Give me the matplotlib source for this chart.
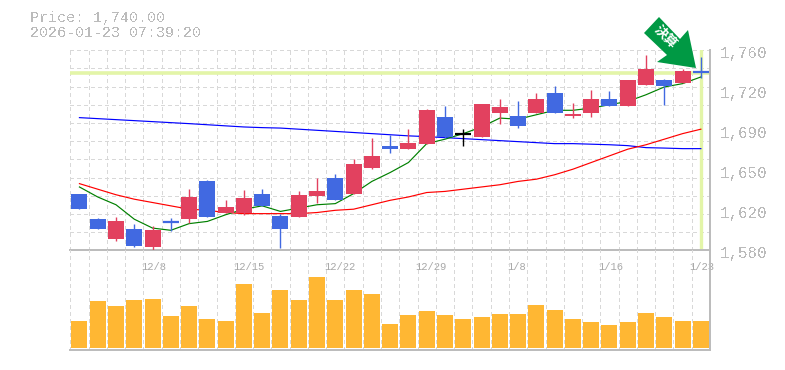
import numpy as np
import matplotlib
matplotlib.use('Agg')
from matplotlib import pyplot as plt
from matplotlib.patches import Polygon

plt.rcParams['font.family'] = ['Liberation Mono', 'DejaVu Sans']
plt.rcParams['text.antialiased'] = False

# daily prices, oldest first
opens = [1631,1608,1590,1599,1583,1605.5,1608,1642,1614,1614,1631,1611,1610,1629,1645,1631,1654,1674,1671,1676,1700,1685,1682,1704,1701,1704,1722,1701,1704,1716,1710,1729,1733,1731,1741]
closes = [1617,1599,1606,1584,1598,1605,1628,1610,1619,1627,1620,1599,1630,1633,1625,1658,1665,1671,1677,1706,1682,1685,1712,1709,1692,1716,1704,1703,1716,1710,1733,1743,1728,1741,1740]
highs = [1631,1609,1610,1604,1602,1609,1635,1643,1625,1634,1635,1613,1633,1645,1649,1662,1681,1684,1689,1707,1710,1689,1712,1716,1714,1722,1728,1713,1724,1723,1733,1756,1734,1743,1754]
lows = [1617,1599,1588,1583,1580,1597,1605,1610,1614,1612,1620,1582,1610,1623,1625,1631,1653,1668,1671,1676,1681,1674,1682,1694,1690,1704,1704,1699,1700,1710,1710,1729,1711,1731,1735]
volumes = [27,47,42,48,49,32,42,29,27,64,35,58,48,71,48,58,54,24,33,37,33,29,31,34,34,43,38,29,26,23,26,35,31,27,27]

ma_short = [1637,1628,1621,1608,1600,1598,1604,1606,1612,1617,1620,1615,1618,1621,1622,1631,1642,1650,1659,1676,1680,1685,1691,1699,1698,1702,1706,1706,1708,1711,1714,1720,1727,1730,1736]
ma_mid = [1640,1635,1630,1626,1623,1620,1617,1616,1614,1613,1613,1613,1613,1614,1616,1617,1621,1625,1628,1632,1633,1635,1637,1639,1642,1644,1648,1653,1659,1665,1671,1675,1680,1685,1689]
ma_long = [1699.4,1698.5,1697.6,1696.7,1695.8,1694.9,1694,1693,1692,1691,1690.4,1690,1689,1688,1687,1686,1685,1684,1683,1682.3,1681.4,1680.5,1679.6,1678.7,1677.8,1676.9,1676,1676,1675.5,1675,1674.2,1672.4,1672,1671.5,1671.5]

date_pos = [4,9,14,19,24,29,34]
date_labels = ['12/8','12/15','12/22','12/29','1/8','1/16','1/23']
price_pos = [1760,1724,1688,1652,1616,1580]
price_labels = ['1,760','1,720','1,690','1,650','1,620','1,580']
last_price = 1740

UP = '#E2415F'
DOWN = '#4169E1'
GREY = '#BBBBBB'
GRID = '#D8D8D8'
MARK = '#E3F5A8'

W, H = 785, 370
def box(x0, y0, x1, y1):
    return [x0/W, 1-y1/H, (x1-x0)/W, (y1-y0)/H]

fig = plt.figure(figsize=(W/100, H/100), dpi=100)
ax = fig.add_axes(box(70.3, 50.3, 710, 250.3))
vax = fig.add_axes(box(70.3, 250.3, 710, 350))
vax.patch.set_visible(False)

x = np.arange(len(closes))
bands = np.arange(-0.5, len(closes)+0.5)

for a in (ax, vax):
    a.set_xlim(-0.5, len(closes)-0.5)
    a.set_xticks(bands)
    a.tick_params(length=0, labelbottom=False, labelleft=False)
    a.grid(axis='x', color=GRID, lw=0.72, ls=(0, (3, 3)), antialiased=False)
    a.set_axisbelow(True)
    a.spines['top'].set_visible(False)
    a.spines['left'].set_visible(False)
    a.spines['right'].set_color(GREY)
    a.spines['bottom'].set_color(GREY)
    a.spines['right'].set_linewidth(1.4)
    a.spines['bottom'].set_linewidth(1.4)

ax.set_ylim(1580, 1760)
ax.set_yticks(np.linspace(1580, 1760, 12))
ax.grid(axis='y', color=GRID, lw=0.72, ls=(0, (3, 3)), antialiased=False)

# current price cross hair
ax.axhline(last_price, color=MARK, lw=2.6, zorder=1)
ax.axvline(x[-1], color=MARK, lw=2.4, zorder=1)

# moving averages sit behind the candles
ax.plot(x, ma_long, color='#0000FF', lw=0.85, zorder=2)
ax.plot(x, ma_mid, color='#FF0000', lw=0.85, zorder=2)
ax.plot(x, ma_short, color='#008000', lw=0.85, zorder=2)

for i in x:
    o, c = opens[i], closes[i]
    col = UP if c > o else DOWN
    if c == o:
        col = 'black'
    ax.vlines(i, lows[i], highs[i], color=col, lw=1.0, zorder=3)
    if abs(c-o) < 2:
        ax.hlines((o+c)/2, i-0.44, i+0.44, color=col, lw=1.6, zorder=3)
    else:
        ax.bar(i, abs(c-o), bottom=min(o, c), width=0.875, color=col, lw=0, zorder=3)

vax.bar(x, volumes, width=0.875, color='#FFB733', lw=0, zorder=3)
vax.set_ylim(-1.7, 98)
vax.set_yticks([])

for k, s in zip(date_pos, date_labels):
    ax.annotate(s, (k, 1580), xytext=(-8, -8.5), textcoords='offset points', ha='left', va='top',
                color='#A8A8A8', fontsize=7.6, annotation_clip=False, zorder=6, antialiased=True)
for p, s in zip(price_pos, price_labels):
    ax.annotate(s, (34.5, p), xytext=(7, -2), textcoords='offset points', ha='left', va='center',
                color=GREY, fontsize=11.4, annotation_clip=False)

fig.text(30/W, 1-18/H, 'Price: 1,740.00', color=GREY, fontsize=10.8, va='center', ha='left')
fig.text(30/W, 1-33/H, '2026-01-23 07:39:20', color=GREY, fontsize=10.8, va='center', ha='left')

# event flag, pixel outline
arrow_px = [(659,17),(644,33),(667,55),(657,62),(696,68),(688,30),(680,39)]
fig.add_artist(Polygon([(a/W, 1-b/H) for a, b in arrow_px], closed=True, transform=fig.transFigure,
                       facecolor='#009944', edgecolor='none', zorder=10))
fig.text(666/W, 1-37/H, '決算', color='white', fontsize=9.5, rotation=-45, ha='center', va='center',
         rotation_mode='anchor', family=['Noto Sans CJK JP', 'DejaVu Sans'], fontweight='bold', zorder=11,
         antialiased=True)

fig.savefig('out.png', dpi=100)
